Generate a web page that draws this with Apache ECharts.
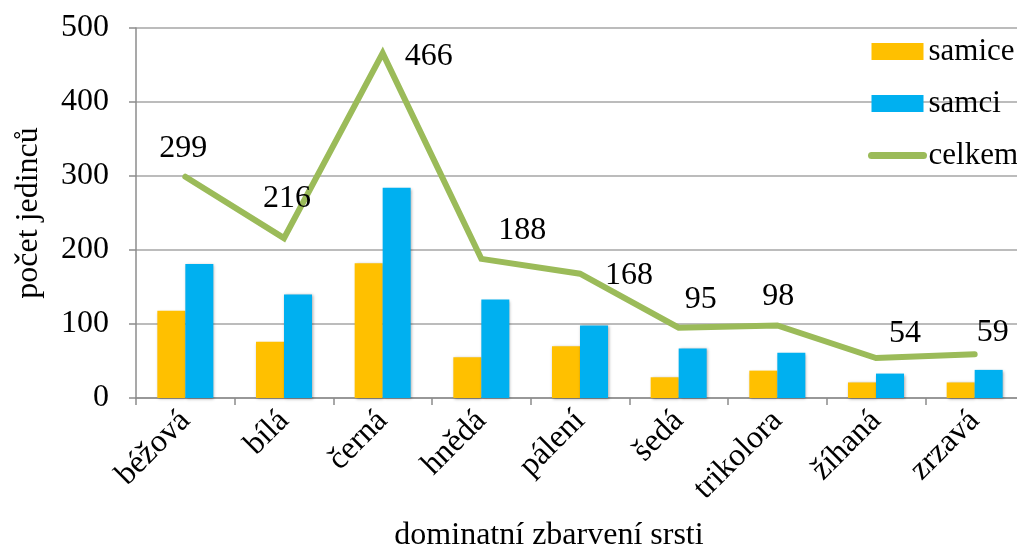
<!DOCTYPE html>
<html>
<head>
<meta charset="utf-8">
<script src="https://cdn.jsdelivr.net/npm/echarts@6/dist/echarts.min.js"></script>
<style>
  html, body { margin: 0; padding: 0; background: #fff; }
  #chart { width: 1017px; height: 546px; }
</style>
</head>
<body>
<div id="chart"></div>
<script>
var categories = ['béžová', 'bílá', 'černá', 'hnědá', 'pálení', 'šedá', 'trikolora', 'žíhaná', 'zrzavá'];
var samice = [118, 76, 182, 55, 70, 28, 37, 21, 21];
var samci = [181, 140, 284, 133, 98, 67, 61, 33, 38];
var celkem = [299, 216, 466, 188, 168, 95, 98, 54, 59];
var yTicks = [0, 100, 200, 300, 400, 500];

// where each total label sits relative to its point (hand placed in the original)
var labelShift = [[-2, -28], [3, -40], [46, 3], [41, -28], [49, 2], [22, -28], [1, -29], [29, -24], [18, -22]];

var font = 'Liberation Serif';
var fs = 32;
var grey = '#8c8c8c';

var barShadow = {
  shadowBlur: 3,
  shadowColor: 'rgba(0,0,0,0.35)',
  shadowOffsetX: 1,
  shadowOffsetY: 1
};

var chart = echarts.init(document.getElementById('chart'));
var option = {
  animation: false,
  textStyle: { fontFamily: font, color: '#000' },
  grid: { left: 136, top: 28, width: 888, height: 370, containLabel: false, outerBoundsMode: 'none' },
  legend: {
    orient: 'vertical',
    left: 868,
    top: 36,
    padding: 0,
    itemWidth: 52,
    itemHeight: 17,
    itemGap: 21,
    textStyle: { fontFamily: font, fontSize: 31, color: '#000' },
    data: [
      { name: 'samice', icon: 'rect' },
      { name: 'samci', icon: 'rect' },
      { name: 'celkem', itemStyle: { opacity: 0 }, lineStyle: { width: 7, cap: 'round' } }
    ]
  },
  xAxis: {
    type: 'category',
    data: categories,
    name: 'dominatní zbarvení srsti',
    nameLocation: 'middle',
    nameGap: 122,
    nameTextStyle: { fontFamily: font, fontSize: fs, color: '#000', padding: [0, 62, 0, 0] },
    axisLine: { lineStyle: { color: grey, width: 1.5 } },
    axisTick: { show: true, length: 7, alignWithLabel: false, lineStyle: { color: grey, width: 1.5 } },
    axisLabel: { rotate: 45, fontFamily: font, fontSize: fs, color: '#000', margin: 18 }
  },
  yAxis: {
    type: 'value',
    min: yTicks[0],
    max: yTicks[yTicks.length - 1],
    interval: 100,
    name: 'počet jedinců',
    nameLocation: 'middle',
    nameGap: 91,
    nameTextStyle: { fontFamily: font, fontSize: fs, color: '#000' },
    axisLine: { show: true, lineStyle: { color: grey, width: 1.5 } },
    axisTick: { show: true, length: 7, lineStyle: { color: grey, width: 1.5 } },
    axisLabel: { fontFamily: font, fontSize: fs, color: '#000', margin: 27 },
    splitLine: { lineStyle: { color: '#a6a6a6', width: 1.5 } }
  },
  series: [
    {
      name: 'samice',
      type: 'bar',
      data: samice,
      barWidth: 28,
      barGap: '0%',
      itemStyle: Object.assign({ color: '#FFC000' }, barShadow)
    },
    {
      name: 'samci',
      type: 'bar',
      data: samci,
      barWidth: 28,
      itemStyle: Object.assign({ color: '#00B0F0' }, barShadow)
    },
    {
      name: 'celkem',
      type: 'line',
      symbol: 'none',
      z: 5,
      lineStyle: { color: '#9BBB59', width: 6, cap: 'round', join: 'miter' },
      itemStyle: { color: '#9BBB59' },
      data: celkem
    },
    {
      // labels for the total line
      name: 'celkem-popisky',
      type: 'scatter',
      symbol: 'circle',
      symbolSize: 1,
      z: 6,
      silent: true,
      itemStyle: { color: 'rgba(0,0,0,0)', opacity: 1 },
      data: celkem.map(function (v, i) {
        return {
          value: v,
          label: {
            show: true,
            position: 'inside',
            offset: labelShift[i],
            fontFamily: font,
            fontSize: fs,
            color: '#000',
            textBorderWidth: 0
          }
        };
      })
    }
  ]
};
chart.setOption(option);
</script>
</body>
</html>
